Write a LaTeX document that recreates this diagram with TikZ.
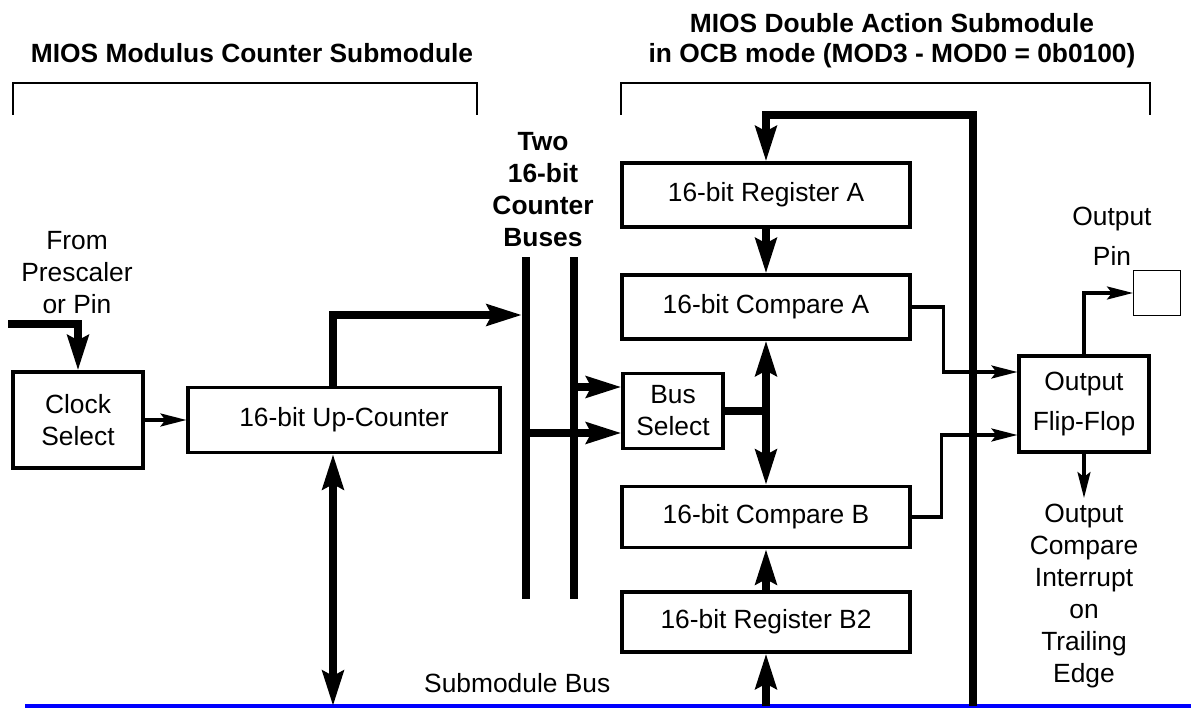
\documentclass[tikz,border=0pt]{standalone}
\usepackage{fontspec}
\setmainfont{Liberation Sans}
\usetikzlibrary{arrows.meta, positioning, calc}
\definecolor{sbblue}{RGB}{0,0,255}

\begin{document}
\begin{tikzpicture}[x=0.02cm, y=-0.02cm,
  blk/.style={draw, line width=1.8pt, minimum width=5.76cm, minimum height=1.28cm,
              inner sep=0pt, align=center, font=\fontsize{15}{18.2}\selectfont},
  lbl/.style={align=center, font=\fontsize{15}{18.2}\selectfont},
  ttl/.style={align=center, font=\bfseries\fontsize{15}{17}\selectfont},
  bar/.style={fill=black, inner sep=0pt, outer sep=0pt, minimum width=0.16cm, minimum height=6.84cm},
  bus/.style={line width=4.5pt, -{Stealth[length=0.7cm, width=0.42cm, inset=0.1cm]}},
  busline/.style={line width=4.5pt},
  dbus/.style={line width=4.5pt, {Stealth[length=0.7cm, width=0.42cm, inset=0.1cm]}-{Stealth[length=0.7cm, width=0.42cm, inset=0.1cm]}},
  sig/.style={line width=1.8pt, -{Stealth[length=0.52cm, width=0.26cm, inset=0.1cm]}},
  brk/.style={line width=1.4pt},
  sbus/.style={line width=2.8pt, draw=sbblue}
]
  \useasboundingbox (0,0) rectangle (1191,709);

  % Submodule bus (drawn first, lines end on it)
  \coordinate (sbl) at (25,706);
  \coordinate (sbr) at (1191,706);
  \draw[sbus] (sbl) -- (sbr);
  \node[lbl, anchor=west] (sblbl) at (418,683) {Submodule Bus};

  % Titles and brackets
  \node[ttl] (lttl) at (252,53) {MIOS Modulus Counter Submodule};
  \node[ttl] (rttl) at (892,41) {MIOS Double Action Submodule\\in OCB mode (MOD3 - MOD0 = 0b0100)};
  \draw[brk] (13,115) -- (13,83) -- (477,83) -- (477,115);
  \draw[brk] (621,115) -- (621,83) -- (1150,83) -- (1150,115);

  % Blocks
  \node[blk, minimum width=2.6cm, minimum height=1.92cm] (clk) at (78,420) {Clock\\Select};
  \node[blk, minimum width=6.24cm, minimum height=1.3cm] (cnt) at (344,420) {16-bit Up-Counter};
  \node[blk] (rega) at (766,195) {16-bit Register A};
  \node[blk] (cmpa) at (766,307) {16-bit Compare A};
  \node[blk, minimum width=2cm, minimum height=1.5cm] (bsel) at (673,411) {Bus\\Select};
  \node[blk, minimum height=1.22cm] (cmpb) at (766,517) {16-bit Compare B};
  \node[blk, minimum height=1.2cm] (regb) at (766,622) {16-bit Register B2};
  \node[blk, minimum width=2.6cm, minimum height=1.92cm] (ff) at (1084,404) {Output\\[4.5pt]Flip-Flop};
  \node[draw, line width=0.6pt, minimum width=0.94cm, minimum height=0.9cm, inner sep=0pt] (pin) at (1157,293) {};

  % Counter buses
  \node[bar] (bus1) at (526,428) {};
  \node[bar] (bus2) at (574,428) {};
  \node[ttl, font=\bfseries\fontsize{15}{18.2}\selectfont] (cbus) at (543,190) {Two\\16-bit\\Counter\\Buses};

  % Labels
  \node[lbl] (src) at (77,273) {From\\Prescaler\\or Pin};
  \node[lbl] (pinlbl) at (1112,236) {Output\\[4.5pt]Pin};
  \node[lbl, anchor=north] (irq) at (1084,498) {Output\\Compare\\Interrupt\\on\\Trailing\\Edge};

  % Counter side
  \coordinate (pre) at (8,324);
  \draw[bus] (pre) -| (clk.north);
  \draw[sig] (clk.east) -- (cnt.west);
  \coordinate (cntup) at (333,315);
  \draw[bus] (cnt.north -| cntup) -- (cntup) -- (cntup -| bus1.west);
  \draw[dbus] (cnt.south -| cntup) -- (cntup |- sbl);

  % Bus select
  \coordinate (bs1) at ([yshift=0.48cm]bsel.west);
  \coordinate (bs2) at ([yshift=-0.44cm]bsel.west);
  \draw[bus] (bs1 -| bus2.east) -- (bs1);
  \draw[bus] (bs2 -| bus1.east) -- (bs2);
  \draw[busline] (bsel.east) -- (bsel.east -| cmpa.south);
  \draw[dbus] (cmpa.south) -- (cmpb.north);

  % Registers
  \draw[bus] (rega.south) -- (cmpa.north);
  \draw[bus] (regb.north) -- (cmpb.south);
  \draw[bus] (regb.south |- sbl) -- (regb.south);
  \coordinate (fb) at (973,115);
  \draw[bus] (fb |- sbl) -- (fb) -| (rega.north);

  % Compare outputs to flip-flop
  \coordinate (ffa) at ([yshift=0.64cm]ff.west);
  \coordinate (ffb) at ([yshift=-0.62cm]ff.west);
  \draw[sig] (cmpa.east) -- ++(32,0) |- (ffa);
  \draw[sig] (cmpb.east) -- ++(30,0) |- (ffb);
  \draw[sig] (ff.north) |- (pin.west);
  \draw[sig] (ff.south) -- (irq.north);

\end{tikzpicture}
\end{document}
